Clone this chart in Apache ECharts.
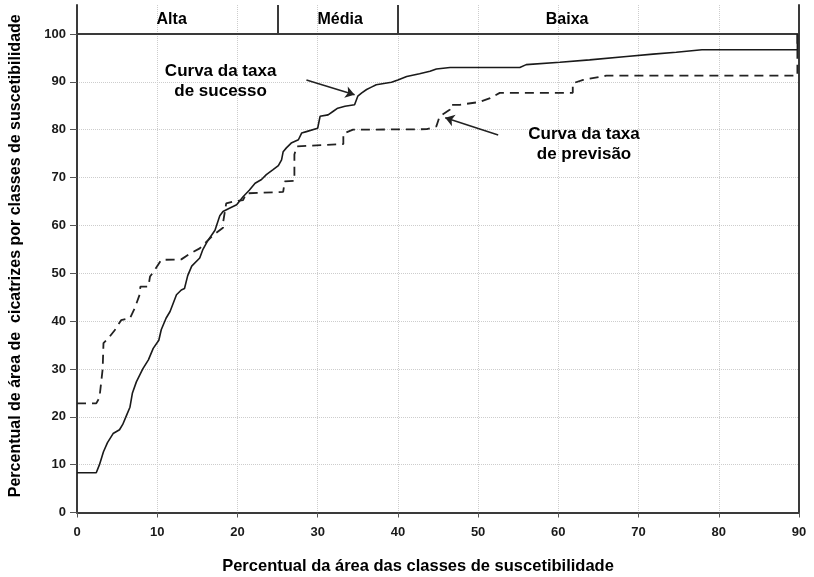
<!DOCTYPE html>
<html>
<head>
<meta charset="utf-8">
<script src="https://cdn.jsdelivr.net/npm/echarts@6/dist/echarts.min.js"></script>
<style>
html,body{margin:0;padding:0;background:#fff;}
#chart{width:814px;height:577px;}
</style>
</head>
<body>
<div id="chart"></div>
<script>
// Success-rate curve (solid)
const successX = [0, 2.4, 2.8, 3.3, 3.8, 4.5, 5.3, 5.7, 6.2, 6.6, 6.9, 7.4, 8.2, 8.9, 9.5, 10.2, 10.5, 11.1, 11.6, 12.4, 13.0, 13.4, 13.8, 14.3, 15.3, 15.7, 16.3, 17.2, 17.8, 18.2, 19.0, 19.9, 20.7, 21.5, 22.2, 23.0, 23.6, 24.4, 25.1, 25.5, 25.7, 26.1, 26.7, 27.6, 28.0, 28.6, 30.0, 30.3, 31.3, 31.9, 32.5, 33.4, 34.6, 35.0, 35.5, 36.1, 36.7, 37.3, 39.2, 40.0, 41.1, 42.7, 44.0, 44.8, 46.5, 55.2, 56.0, 60.2, 63.9, 68.5, 71.8, 74.7, 77.9, 89.8, 89.8];
const successY = [8.3, 8.3, 10.0, 12.7, 14.6, 16.5, 17.3, 18.4, 20.4, 22.0, 24.9, 27.3, 30.0, 31.9, 34.3, 36.0, 38.2, 40.6, 42.0, 45.5, 46.5, 46.8, 49.5, 51.5, 53.2, 55.0, 56.8, 59.0, 62.0, 62.9, 63.6, 64.3, 66.0, 67.4, 68.8, 69.6, 70.6, 71.6, 72.5, 73.7, 75.4, 76.2, 77.2, 77.9, 79.3, 79.6, 80.3, 82.8, 83.1, 83.8, 84.5, 84.9, 85.2, 87.0, 87.7, 88.4, 88.9, 89.4, 89.9, 90.4, 91.1, 91.7, 92.2, 92.7, 93.0, 93.0, 93.6, 94.1, 94.6, 95.3, 95.8, 96.2, 96.7, 96.7, 100];

// Prediction-rate curve (dashed)
const predictionX = [0, 2.4, 2.8, 3.0, 3.2, 3.3, 3.9, 4.7, 5.5, 6.6, 7.2, 7.8, 7.9, 8.9, 9.1, 9.7, 10.5, 13.0, 14.0, 15.3, 17.0, 18.2, 18.2, 18.6, 19.5, 20.7, 21.1, 25.7, 25.9, 27.1, 27.1, 27.4, 33.2, 33.2, 34.4, 43.6, 44.8, 45.2, 46.5, 46.6, 47.7, 50.2, 51.5, 52.7, 61.8, 61.8, 63.1, 66.0, 89.8, 89.8];
const predictionY = [22.8, 22.8, 24.0, 27.0, 30.0, 35.4, 36.4, 38.1, 40.2, 40.6, 42.7, 45.5, 47.2, 47.2, 49.3, 50.7, 52.8, 52.9, 54.0, 55.2, 58.0, 59.5, 60.5, 64.6, 65.0, 65.3, 66.7, 67.0, 69.2, 69.3, 74.8, 76.5, 77.0, 79.2, 80.0, 80.1, 80.7, 82.8, 84.2, 85.2, 85.2, 85.8, 86.6, 87.7, 87.7, 89.7, 90.4, 91.3, 91.3, 100];

// Susceptibility classes (top band)
const classNames = ['Alta', 'Média', 'Baixa'];
const classBounds = [25, 40];
const classLabelX = [11.8, 32.8, 61.1];

// Annotations
const annotTexts = ['Curva da taxa\nde sucesso', 'Curva da taxa\nde previsão'];
const annotAt = [[17.9, 90.2], [63.2, 77.0]];
const arrowFrom = [[28.6, 90.4], [52.5, 78.9]];
const arrowTo = [[34.6, 87.3], [45.9, 82.5]];

const xName = 'Percentual da área das classes de suscetibilidade';
const yName = 'Percentual de área de  cicatrizes por classes de suscetibilidade';

const zip = (xs, ys) => xs.map((x, i) => [x, ys[i]]);
const FONT = 'Liberation Sans, Arial, sans-serif';
const AXIS_COLOR = '#3a3a3a';
const GRID_LINE = {show: true, lineStyle: {type: 'dotted', color: '#cdcdcd', width: 1}};

const chart = echarts.init(document.getElementById('chart'), null, {renderer: 'canvas'});
const option = {
  animation: false,
  backgroundColor: '#fff',
  grid: [
    {left: 77, top: 34, width: 722, height: 478.5, outerBoundsMode: 'none', containLabel: false},
    {left: 77, top: 5, width: 722, height: 29, outerBoundsMode: 'none', containLabel: false}
  ],
  xAxis: [
    {
      gridIndex: 0, type: 'value', min: 0, max: 90, interval: 10,
      axisLine: {show: true, onZero: false, lineStyle: {color: AXIS_COLOR, width: 2}},
      axisTick: {show: true, length: 5, lineStyle: {color: '#555', width: 1}},
      axisLabel: {margin: 13, color: '#1a1a1a', fontFamily: FONT, fontWeight: 'bold', fontSize: 13},
      splitLine: GRID_LINE,
      name: xName, nameLocation: 'middle', nameGap: 45,
      nameTextStyle: {color: '#000', fontFamily: FONT, fontWeight: 'bold', fontSize: 16.5, padding: [0, 40, 0, 0]}
    },
    {
      gridIndex: 1, type: 'value', min: 0, max: 90, interval: 10,
      axisLine: {show: true, onZero: false, lineStyle: {color: AXIS_COLOR, width: 2}},
      axisTick: {show: false}, axisLabel: {show: false},
      splitLine: GRID_LINE
    }
  ],
  yAxis: [
    {
      gridIndex: 0, type: 'value', min: 0, max: 100, interval: 10, position: 'left',
      axisLine: {show: true, onZero: false, lineStyle: {color: AXIS_COLOR, width: 2}},
      axisTick: {show: true, length: 7, lineStyle: {color: '#555', width: 1}},
      axisLabel: {margin: 11, color: '#1a1a1a', fontFamily: FONT, fontWeight: 'bold', fontSize: 13},
      splitLine: GRID_LINE,
      name: yName, nameLocation: 'middle', nameGap: 53, nameRotate: 90,
      nameTextStyle: {color: '#000', fontFamily: FONT, fontWeight: 'bold', fontSize: 16, padding: [0, 0, 0, 35]}
    },
    {
      gridIndex: 0, type: 'value', min: 0, max: 100, position: 'right',
      axisLine: {show: true, onZero: false, lineStyle: {color: AXIS_COLOR, width: 2}},
      axisTick: {show: false}, axisLabel: {show: false}, splitLine: {show: false}
    },
    {
      gridIndex: 1, type: 'value', min: 0, max: 1, position: 'left',
      axisLine: {show: true, onZero: false, lineStyle: {color: AXIS_COLOR, width: 2}},
      axisTick: {show: false}, axisLabel: {show: false}, splitLine: {show: false}
    },
    {
      gridIndex: 1, type: 'value', min: 0, max: 1, position: 'right',
      axisLine: {show: true, onZero: false, lineStyle: {color: AXIS_COLOR, width: 2}},
      axisTick: {show: false}, axisLabel: {show: false}, splitLine: {show: false}
    }
  ],
  series: [
    {
      name: 'Curva da taxa de sucesso', type: 'line', xAxisIndex: 0, yAxisIndex: 0,
      data: zip(successX, successY), showSymbol: false, symbol: 'none', clip: false,
      lineStyle: {color: '#1a1a1a', width: 1.6}
    },
    {
      name: 'Curva da taxa de previsão', type: 'line', xAxisIndex: 0, yAxisIndex: 0,
      data: zip(predictionX, predictionY), showSymbol: false, symbol: 'none', clip: false,
      lineStyle: {color: '#222', width: 1.8, type: [9, 6]}
    },
    {
      name: 'annotations', type: 'scatter', xAxisIndex: 0, yAxisIndex: 0,
      symbol: 'circle', symbolSize: 0, itemStyle: {color: '#000', opacity: 1},
      data: annotTexts.map((t, i) => ({value: annotAt[i], name: t})),
      label: {show: true, position: 'inside', formatter: '{b}', color: '#000', opacity: 1,
        textBorderWidth: 0, textBorderColor: 'transparent',
        fontFamily: FONT, fontWeight: 'bold', fontSize: 17, lineHeight: 20, align: 'center'},
      markLine: {
        silent: true, symbol: ['none', 'arrow'], symbolSize: 9,
        label: {show: false},
        lineStyle: {color: '#222', width: 1.5, type: 'solid'},
        data: arrowFrom.map((f, i) => [{coord: f}, {coord: arrowTo[i]}])
      }
    },
    {
      name: 'classes', type: 'scatter', xAxisIndex: 1, yAxisIndex: 2,
      symbol: 'circle', symbolSize: 0, itemStyle: {color: '#000', opacity: 1},
      data: classNames.map((n, i) => ({value: [classLabelX[i], 0.5], name: n})),
      label: {show: true, position: 'inside', formatter: '{b}', color: '#000', opacity: 1,
        textBorderWidth: 0, textBorderColor: 'transparent',
        fontFamily: FONT, fontWeight: 'bold', fontSize: 16},
      markLine: {
        silent: true, symbol: ['none', 'none'], label: {show: false},
        lineStyle: {color: AXIS_COLOR, width: 2, type: 'solid'},
        data: classBounds.map(b => ({xAxis: b}))
      }
    }
  ]
};
chart.setOption(option);
</script>
</body>
</html>
